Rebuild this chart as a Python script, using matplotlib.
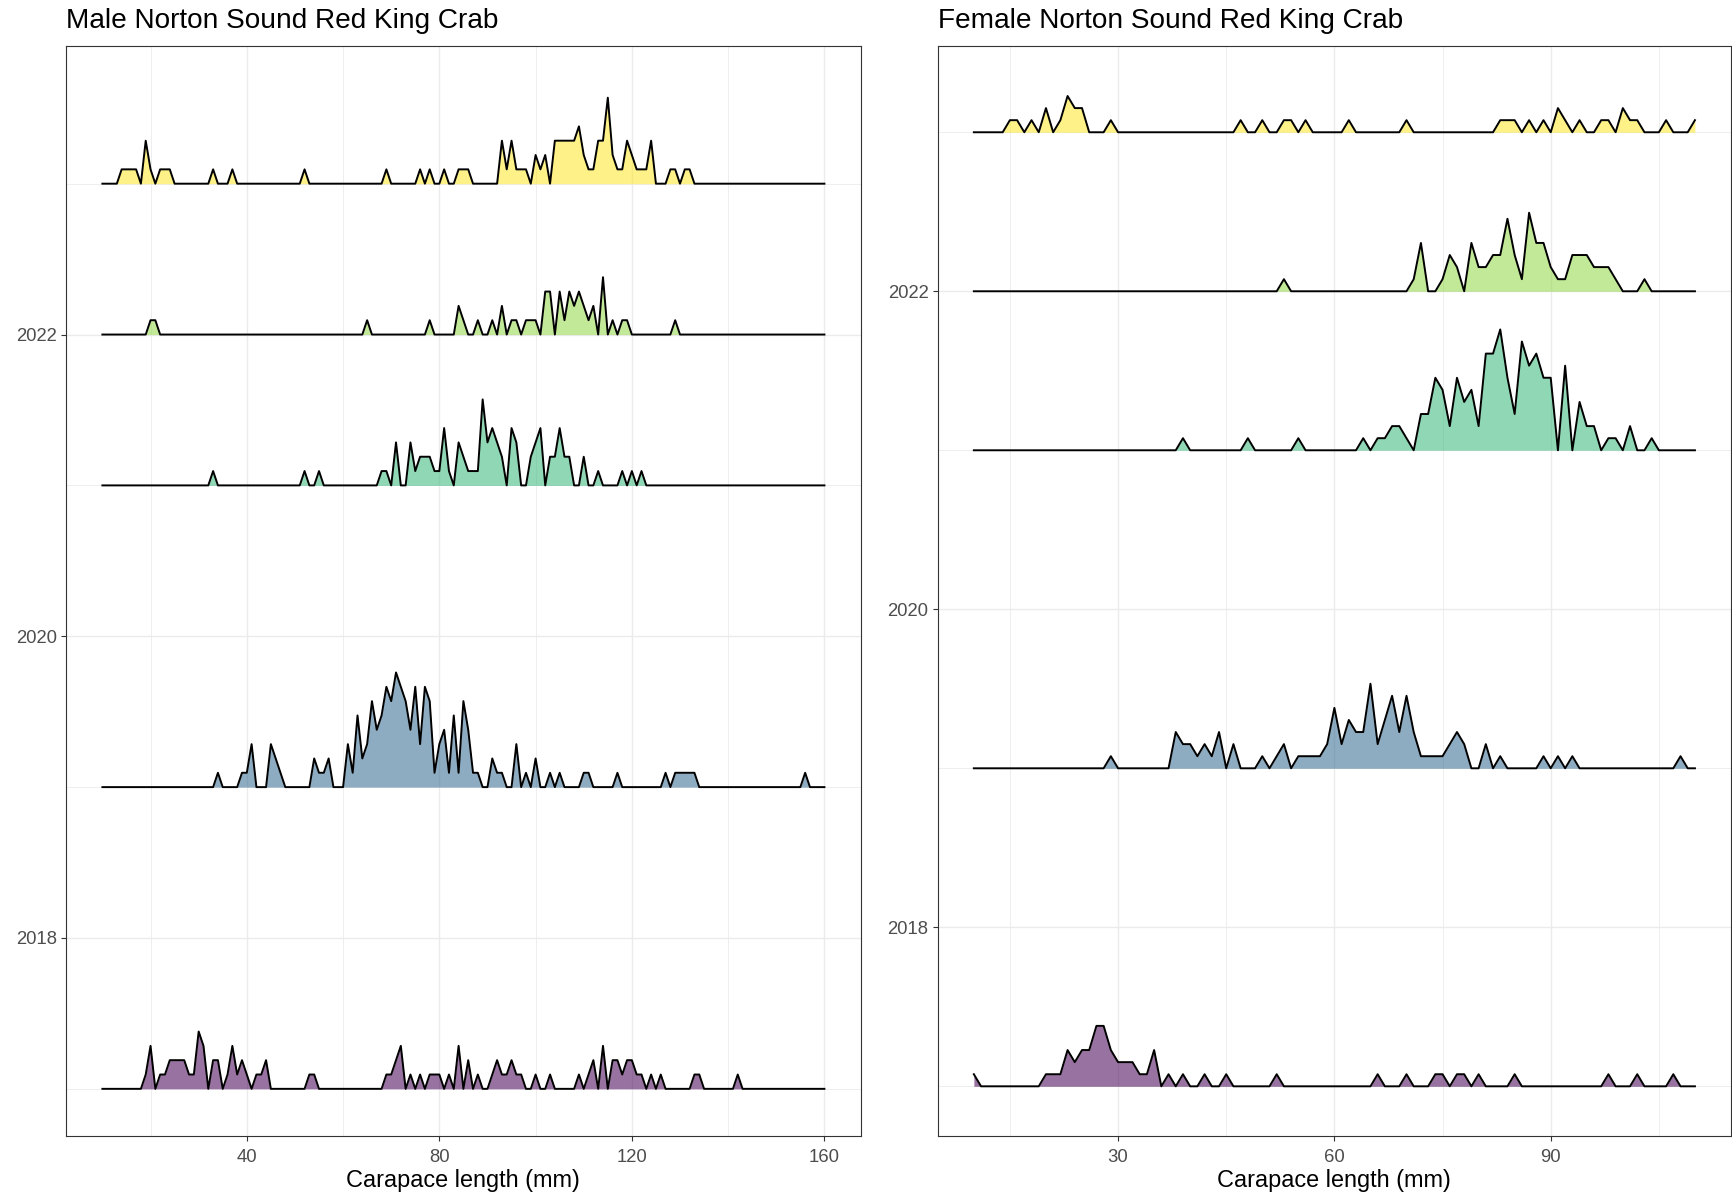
import numpy as np
import matplotlib.pyplot as plt
from matplotlib.ticker import FixedLocator

plt.rcParams['font.family'] = ['Liberation Sans', 'DejaVu Sans']

# counts of crab per 1 mm carapace length bin (bins not listed are zero)
male_2017 = {19: 1, 20: 3, 22: 1, 23: 1, 24: 2, 25: 2, 26: 2, 27: 2, 28: 1, 29: 1,
             30: 4, 31: 3, 33: 2, 34: 2, 36: 1, 37: 3, 38: 1, 39: 2, 40: 1, 42: 1,
             43: 1, 44: 2, 53: 1, 54: 1, 69: 1, 70: 1, 71: 2, 72: 3, 74: 1, 76: 1,
             78: 1, 79: 1, 80: 1, 82: 1, 84: 3, 86: 2, 88: 1, 91: 1, 92: 2, 93: 1,
             94: 1, 95: 2, 96: 1, 97: 1, 100: 1, 103: 1, 109: 1, 111: 1, 112: 2,
             114: 3, 116: 2, 117: 2, 118: 1, 119: 2, 120: 2, 121: 1, 122: 1, 124: 1,
             126: 1, 133: 1, 134: 1, 142: 1}
male_2019 = {34: 1, 39: 1, 40: 1, 41: 3, 45: 3, 46: 2, 47: 1, 54: 2, 55: 1, 56: 1,
             57: 2, 61: 3, 62: 1, 63: 5, 64: 2, 65: 3, 66: 6, 67: 4, 68: 5, 69: 7,
             70: 6, 71: 8, 72: 7, 73: 6, 74: 4, 75: 7, 76: 3, 77: 7, 78: 6, 79: 1,
             80: 3, 81: 4, 82: 1, 83: 5, 84: 1, 85: 6, 86: 4, 87: 1, 88: 1, 91: 2,
             92: 1, 93: 1, 96: 3, 98: 1, 100: 2, 103: 1, 105: 1, 110: 1, 111: 1,
             117: 1, 127: 1, 129: 1, 130: 1, 131: 1, 132: 1, 133: 1, 156: 1}
male_2021 = {33: 1, 52: 1, 55: 1, 68: 1, 69: 1, 71: 3, 74: 3, 75: 1, 76: 2, 77: 2,
             78: 2, 79: 1, 80: 1, 81: 4, 82: 1, 84: 3, 85: 2, 86: 1, 87: 1, 88: 1,
             89: 6, 90: 3, 91: 4, 92: 3, 93: 2, 95: 4, 96: 3, 99: 2, 100: 3, 101: 4,
             103: 2, 104: 2, 105: 4, 106: 2, 107: 2, 110: 2, 113: 1, 118: 1, 120: 1,
             122: 1}
male_2022 = {20: 1, 21: 1, 65: 1, 78: 1, 84: 2, 85: 1, 88: 1, 91: 1, 93: 2, 95: 1,
             96: 1, 98: 1, 99: 1, 100: 1, 102: 3, 103: 3, 105: 3, 106: 1, 107: 3,
             108: 2, 109: 3, 110: 2, 111: 1, 112: 2, 114: 4, 116: 1, 118: 1, 119: 1,
             129: 1}
male_2023 = {14: 1, 15: 1, 16: 1, 17: 1, 19: 3, 20: 1, 22: 1, 23: 1, 24: 1, 33: 1,
             37: 1, 52: 1, 69: 1, 76: 1, 78: 1, 81: 1, 84: 1, 85: 1, 86: 1, 93: 3,
             94: 1, 95: 3, 96: 1, 97: 1, 98: 1, 100: 2, 101: 1, 102: 2, 104: 3,
             105: 3, 106: 3, 107: 3, 108: 3, 109: 4, 110: 2, 111: 1, 112: 1, 113: 3,
             114: 3, 115: 6, 116: 2, 117: 1, 118: 1, 119: 3, 120: 2, 121: 1, 122: 1,
             123: 1, 124: 3, 128: 1, 129: 1, 131: 1, 132: 1}

female_2017 = {10: 1, 20: 1, 21: 1, 22: 1, 23: 3, 24: 2, 25: 3, 26: 3, 27: 5, 28: 5,
               29: 3, 30: 2, 31: 2, 32: 2, 33: 1, 34: 1, 35: 3, 37: 1, 39: 1, 42: 1,
               45: 1, 52: 1, 66: 1, 70: 1, 74: 1, 75: 1, 77: 1, 78: 1, 80: 1, 85: 1,
               98: 1, 102: 1, 107: 1}
female_2019 = {29: 1, 38: 3, 39: 2, 40: 2, 41: 1, 42: 2, 43: 1, 44: 3, 46: 2, 50: 1,
               52: 1, 53: 2, 55: 1, 56: 1, 57: 1, 58: 1, 59: 2, 60: 5, 61: 2, 62: 4,
               63: 3, 64: 3, 65: 7, 66: 2, 67: 4, 68: 6, 69: 3, 70: 6, 71: 3, 72: 1,
               73: 1, 74: 1, 75: 1, 76: 2, 77: 3, 78: 2, 81: 2, 83: 1, 89: 1, 91: 1,
               93: 1, 108: 1}
female_2021 = {39: 1, 48: 1, 55: 1, 64: 1, 66: 1, 67: 1, 68: 2, 69: 2, 70: 1, 72: 3,
               73: 3, 74: 6, 75: 5, 76: 2, 77: 6, 78: 4, 79: 5, 80: 2, 81: 8, 82: 8,
               83: 10, 84: 6, 85: 3, 86: 9, 87: 7, 88: 8, 89: 6, 90: 6, 92: 7, 94: 4,
               95: 2, 96: 2, 98: 1, 99: 1, 101: 2, 104: 1}
female_2022 = {53: 1, 71: 1, 72: 4, 75: 1, 76: 3, 77: 2, 79: 4, 80: 2, 81: 2, 82: 3,
               83: 3, 84: 6, 85: 3, 86: 1, 87: 6.5, 88: 4, 89: 4, 90: 2, 91: 1, 92: 1,
               93: 3, 94: 3, 95: 3, 96: 2, 97: 2, 98: 2, 99: 1, 103: 1}
female_2023 = {15: 1, 16: 1, 18: 1, 20: 2, 22: 1, 23: 3, 24: 2, 25: 2, 29: 1, 47: 1,
               50: 1, 53: 1, 54: 1, 56: 1, 62: 1, 70: 1, 83: 1, 84: 1, 85: 1, 87: 1,
               89: 1, 91: 2, 92: 1, 94: 1, 97: 1, 98: 1, 100: 2, 101: 1, 102: 1,
               106: 1, 110: 1}

years = [2017, 2019, 2021, 2022, 2023]
male_counts = [male_2017, male_2019, male_2021, male_2022, male_2023]
female_counts = [female_2017, female_2019, female_2021, female_2022, female_2023]


def ridges(ax, counts, lo, hi, title, xmaj, xmin, xlim, ylim):
    x = np.arange(lo, hi + 1)
    top = max(max(c.values()) for c in counts)
    unit = 0.76 / top
    z = 2
    for yr, c in sorted(zip(years, counts), reverse=True):
        h = np.array([c.get(v, 0) for v in x]) * unit
        col = plt.cm.viridis((yr - 2017) / 6)
        ax.fill_between(x, yr, yr + h, color=col, alpha=0.55, lw=0, zorder=z)
        ax.plot(x, yr + h, color='black', lw=1.4, zorder=z + 1)
        z += 2

    ax.set_xlim(*xlim)
    ax.set_ylim(*ylim)
    ax.xaxis.set_major_locator(FixedLocator(xmaj))
    ax.xaxis.set_minor_locator(FixedLocator(xmin))
    ax.yaxis.set_major_locator(FixedLocator([2018, 2020, 2022]))
    ax.yaxis.set_minor_locator(FixedLocator([2017, 2019, 2021, 2023]))
    ax.grid(which='major', color='#EBEBEB', lw=1.0, zorder=0)
    ax.grid(which='minor', color='#EBEBEB', lw=0.6, zorder=0)
    ax.set_axisbelow(True)
    ax.tick_params(which='major', length=3.6, width=0.8, color='#333333',
                   labelsize=13.3, labelcolor='#4D4D4D', pad=3)
    ax.tick_params(axis='x', which='major', pad=6)
    ax.tick_params(which='minor', length=0)
    for s in ax.spines.values():
        s.set_color('#333333')
        s.set_linewidth(0.8)
    ax.set_xlabel('Carapace length (mm)', fontsize=16.9, labelpad=2.2)
    ax.set_title(title, loc='left', fontsize=20.2, pad=13)


fig = plt.figure(figsize=(17.32, 11.97), dpi=100)
ax1 = fig.add_axes([0.03828, 0.05129, 0.45855, 0.90995])
ax2 = fig.add_axes([0.54145, 0.05129, 0.45797, 0.90995])

ridges(ax1, male_counts, 10, 160, 'Male Norton Sound Red King Crab',
       [40, 80, 120, 160], [20, 60, 100, 140], (2.5, 167.5), (2016.69, 2023.91))
ridges(ax2, female_counts, 10, 110, 'Female Norton Sound Red King Crab',
       [30, 60, 90], [15, 45, 75, 105], (5, 115), (2016.69, 2023.54))

fig.savefig('out.png', dpi=100)
